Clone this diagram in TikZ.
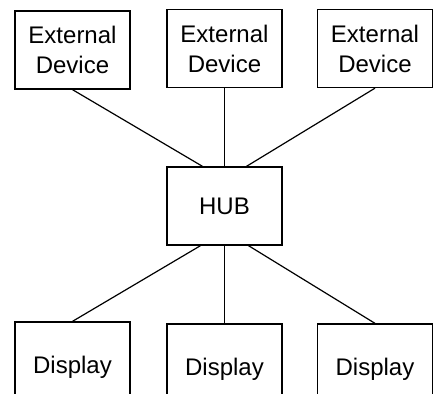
\documentclass[tikz,border=0pt]{standalone}
\usepackage{fontspec}
\setmainfont{Liberation Sans}
\usepackage{tikz}
\usetikzlibrary{positioning}

\begin{document}
\begin{tikzpicture}[x=1pt,y=-1pt]
\tikzstyle{every node}+=[inner sep=0pt]
\tikzstyle{unit}=[draw=black,line width=1.3pt,minimum width=115pt,minimum height=78pt,align=center,font=\fontsize{24}{30}\selectfont]
\tikzstyle{link}=[draw=black,line width=1.2pt]
\clip (0,0) rectangle (433,393);
\node [unit] (ext1) at (72.5,50) {External\\Device};
\node [unit] (ext2) at (224.5,48.5) {External\\Device};
\node [unit] (ext3) at (375,48.5) {External\\Device};
\node [unit] (hub) at (224.5,206) {HUB};
\node [unit,minimum height=90pt] (disp1) at (72.5,367) {Display};
\node [unit,minimum height=90pt] (disp2) at (224.5,369) {Display};
\node [unit,minimum height=90pt] (disp3) at (375,369) {Display};
\coordinate (hubnw) at ([xshift=-22pt]hub.north);
\coordinate (hubne) at ([xshift=22pt]hub.north);
\coordinate (hubsw) at ([xshift=-24pt]hub.south);
\coordinate (hubse) at ([xshift=24pt]hub.south);
\draw [link] (ext1.south) -- (hubnw);
\draw [link] (ext2.south) -- (hub.north);
\draw [link] (ext3.south) -- (hubne);
\draw [link] (hubsw) -- (disp1.north);
\draw [link] (hub.south) -- (disp2.north);
\draw [link] (hubse) -- (disp3.north);
\end{tikzpicture}
\end{document}
